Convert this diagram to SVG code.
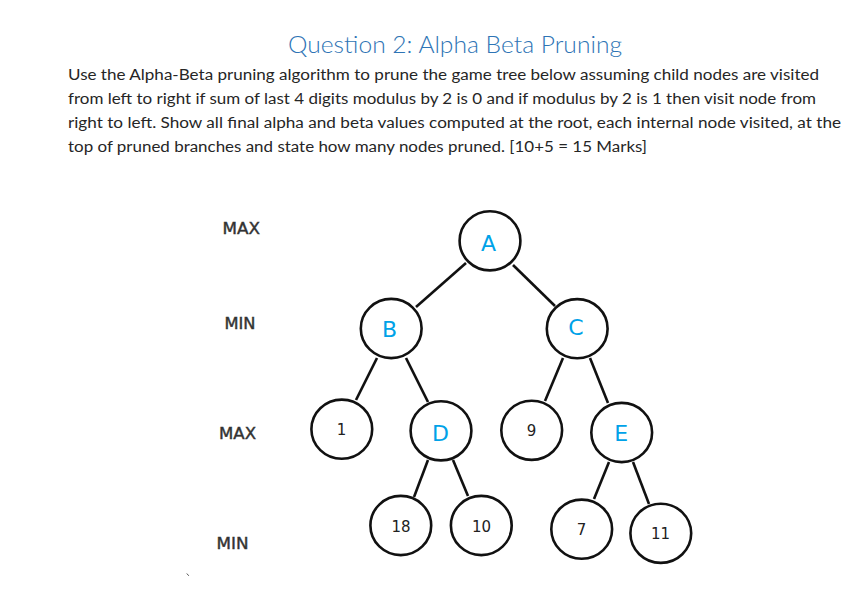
<svg xmlns="http://www.w3.org/2000/svg" width="855" height="597" viewBox="0 0 855 597">
<style>
.title{font-family:Lato,"Open Sans","Liberation Sans",sans-serif;font-weight:300;font-size:24px;fill:#2E74B5}
.body{font-family:Lato,"Open Sans","Liberation Sans",sans-serif;font-size:15.5px;fill:#262626}
.lvl{font-family:"DejaVu Sans",sans-serif;font-size:15px;fill:#333333;stroke:#333333;stroke-width:0.4}
.node{fill:#ffffff;stroke:#111111;stroke-width:2.6}
.nl{font-family:"DejaVu Sans",sans-serif;font-size:22px;fill:#00A2E8;text-anchor:middle}
.vl{font-family:"DejaVu Sans",sans-serif;font-size:15px;fill:#222222;text-anchor:middle}
.edge{stroke:#111111;stroke-width:2.6;fill:none}
</style>
<rect width="855" height="597" fill="#ffffff"/>
<text class="title" x="288" y="53" textLength="334" lengthAdjust="spacingAndGlyphs">Question 2: Alpha Beta Pruning</text>
<text class="body" x="68" y="80" textLength="751" lengthAdjust="spacingAndGlyphs">Use the Alpha-Beta pruning algorithm to prune the game tree below assuming child nodes are visited</text>
<text class="body" x="68" y="104" textLength="748" lengthAdjust="spacingAndGlyphs">from left to right if sum of last 4 digits modulus by 2 is 0 and if modulus by 2 is 1 then visit node from</text>
<text class="body" x="68" y="128" textLength="773" lengthAdjust="spacingAndGlyphs">right to left. Show all final alpha and beta values computed at the root, each internal node visited, at the</text>
<text class="body" x="68" y="152" textLength="579" lengthAdjust="spacingAndGlyphs">top of pruned branches and state how many nodes pruned. [10+5 = 15 Marks]</text>
<g id="levels">
<text class="lvl" x="222.5" y="234" textLength="37.5" lengthAdjust="spacingAndGlyphs">MAX</text>
<text class="lvl" x="224.5" y="329" textLength="31" lengthAdjust="spacingAndGlyphs">MIN</text>
<text class="lvl" x="219" y="439" textLength="37" lengthAdjust="spacingAndGlyphs">MAX</text>
<text class="lvl" x="216.5" y="549" textLength="32" lengthAdjust="spacingAndGlyphs">MIN</text>
</g>
<line x1="186.8" y1="573.5" x2="188.8" y2="575.8" stroke="#555" stroke-width="1"/>
<g id="connectors">
<line class="edge" x1="466" y1="263" x2="416" y2="307"/>
<line class="edge" x1="513" y1="265" x2="555" y2="306"/>
<line class="edge" x1="377" y1="358" x2="356" y2="400"/>
<line class="edge" x1="406" y1="358" x2="428" y2="402"/>
<line class="edge" x1="563" y1="358" x2="545" y2="401"/>
<line class="edge" x1="590" y1="358" x2="608" y2="403"/>
<line class="edge" x1="428" y1="460" x2="414" y2="497"/>
<line class="edge" x1="453" y1="460" x2="468" y2="496"/>
<line class="edge" x1="609" y1="462" x2="594" y2="499"/>
<line class="edge" x1="633" y1="462" x2="649" y2="504"/>
</g>
<g id="node-A"><ellipse class="node" cx="490" cy="240.8" rx="30.4" ry="29.6"/><text class="nl" x="488.5" y="251">A</text></g>
<g id="node-B"><ellipse class="node" cx="391.2" cy="328.5" rx="30.4" ry="29.6"/><text class="nl" x="389.5" y="336.7">B</text></g>
<g id="node-C"><ellipse class="node" cx="577.2" cy="328.7" rx="30.4" ry="29.6"/><text class="nl" x="576" y="334.5">C</text></g>
<g id="node-1"><ellipse class="node" cx="341.8" cy="429.2" rx="30.4" ry="29.6"/><text class="vl" x="341.5" y="435">1</text></g>
<g id="node-D"><ellipse class="node" cx="441" cy="430.8" rx="30.4" ry="29.6"/><text class="nl" x="440.5" y="441">D</text></g>
<g id="node-9"><ellipse class="node" cx="531.7" cy="430.3" rx="30.4" ry="29.6"/><text class="vl" x="531.5" y="436">9</text></g>
<g id="node-E"><ellipse class="node" cx="621.7" cy="432.5" rx="30.4" ry="29.6"/><text class="nl" x="621.3" y="440.7">E</text></g>
<g id="node-18"><ellipse class="node" cx="400.8" cy="525.5" rx="30.4" ry="29.6"/><text class="vl" x="401" y="532">18</text></g>
<g id="node-10"><ellipse class="node" cx="481.3" cy="525.5" rx="30.4" ry="29.6"/><text class="vl" x="481.5" y="532">10</text></g>
<g id="node-7"><ellipse class="node" cx="581.7" cy="529.2" rx="30.4" ry="29.6"/><text class="vl" x="581.5" y="534.5">7</text></g>
<g id="node-11"><ellipse class="node" cx="660.8" cy="533.3" rx="30.4" ry="29.6"/><text class="vl" x="660.5" y="539">11</text></g>
</svg>
